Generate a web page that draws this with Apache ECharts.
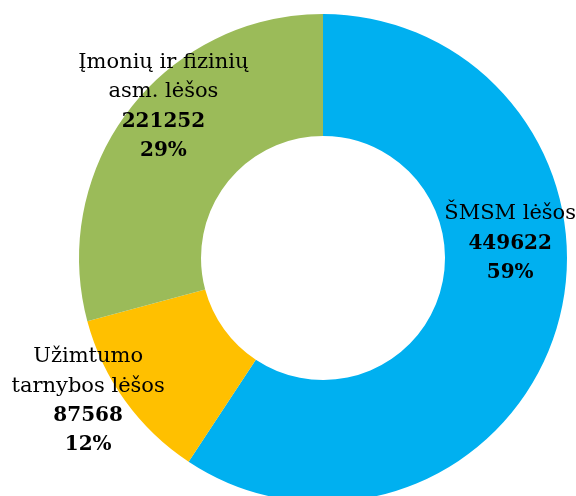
<!DOCTYPE html>
<html>
<head>
<meta charset="utf-8">
<script src="https://cdn.jsdelivr.net/npm/echarts@6/dist/echarts.min.js"></script>
<style>
html,body{margin:0;padding:0;background:#fff;}
#chart{width:576px;height:496px;}
</style>
</head>
<body>
<div id="chart"></div>
<script>
// Data
var categories = ['ŠMSM lėšos', 'Užimtumo\ntarnybos lėšos', 'Įmonių ir fizinių\nasm. lėšos'];
var values = [449622, 87568, 221252];
var percents = ['59%', '12%', '29%'];

// Styling (kept separate from data)
var colors = ['#00B0F0', '#FFC000', '#9BBB59'];
var labelOffsets = [[9, -68], [-84, 34], [-12, -38]];

var seriesData = categories.map(function (name, i) {
  return {
    name: name,
    value: values[i],
    itemStyle: { color: colors[i] },
    label: { offset: labelOffsets[i] }
  };
});

var chart = echarts.init(document.getElementById('chart'), null, { renderer: 'canvas' });
chart.setOption({
  animation: false,
  backgroundColor: '#ffffff',
  series: [{
    type: 'pie',
    center: [323, 258],
    radius: [122, 244],
    startAngle: 90,
    clockwise: true,
    avoidLabelOverlap: false,
    data: seriesData,
    itemStyle: { borderWidth: 0 },
    emphasis: { disabled: true },
    label: {
      show: true,
      position: 'inside',
      align: 'center',
      verticalAlign: 'middle',
      formatter: function (p) {
        var idx = p.dataIndex;
        var nameLines = categories[idx].split('\n').map(function (l) { return '{n|' + l + '}'; }).join('\n');
        return nameLines + '\n{b|' + values[idx] + '}\n{b|' + percents[idx] + '}';
      },
      rich: {
        n: { fontFamily: 'DejaVu Serif', fontSize: 21, color: '#000', lineHeight: 29.5 },
        b: { fontFamily: 'DejaVu Serif', fontSize: 20, fontWeight: 'bold', color: '#000', lineHeight: 29.5 }
      }
    },
    labelLine: { show: false }
  }]
});
</script>
</body>
</html>
